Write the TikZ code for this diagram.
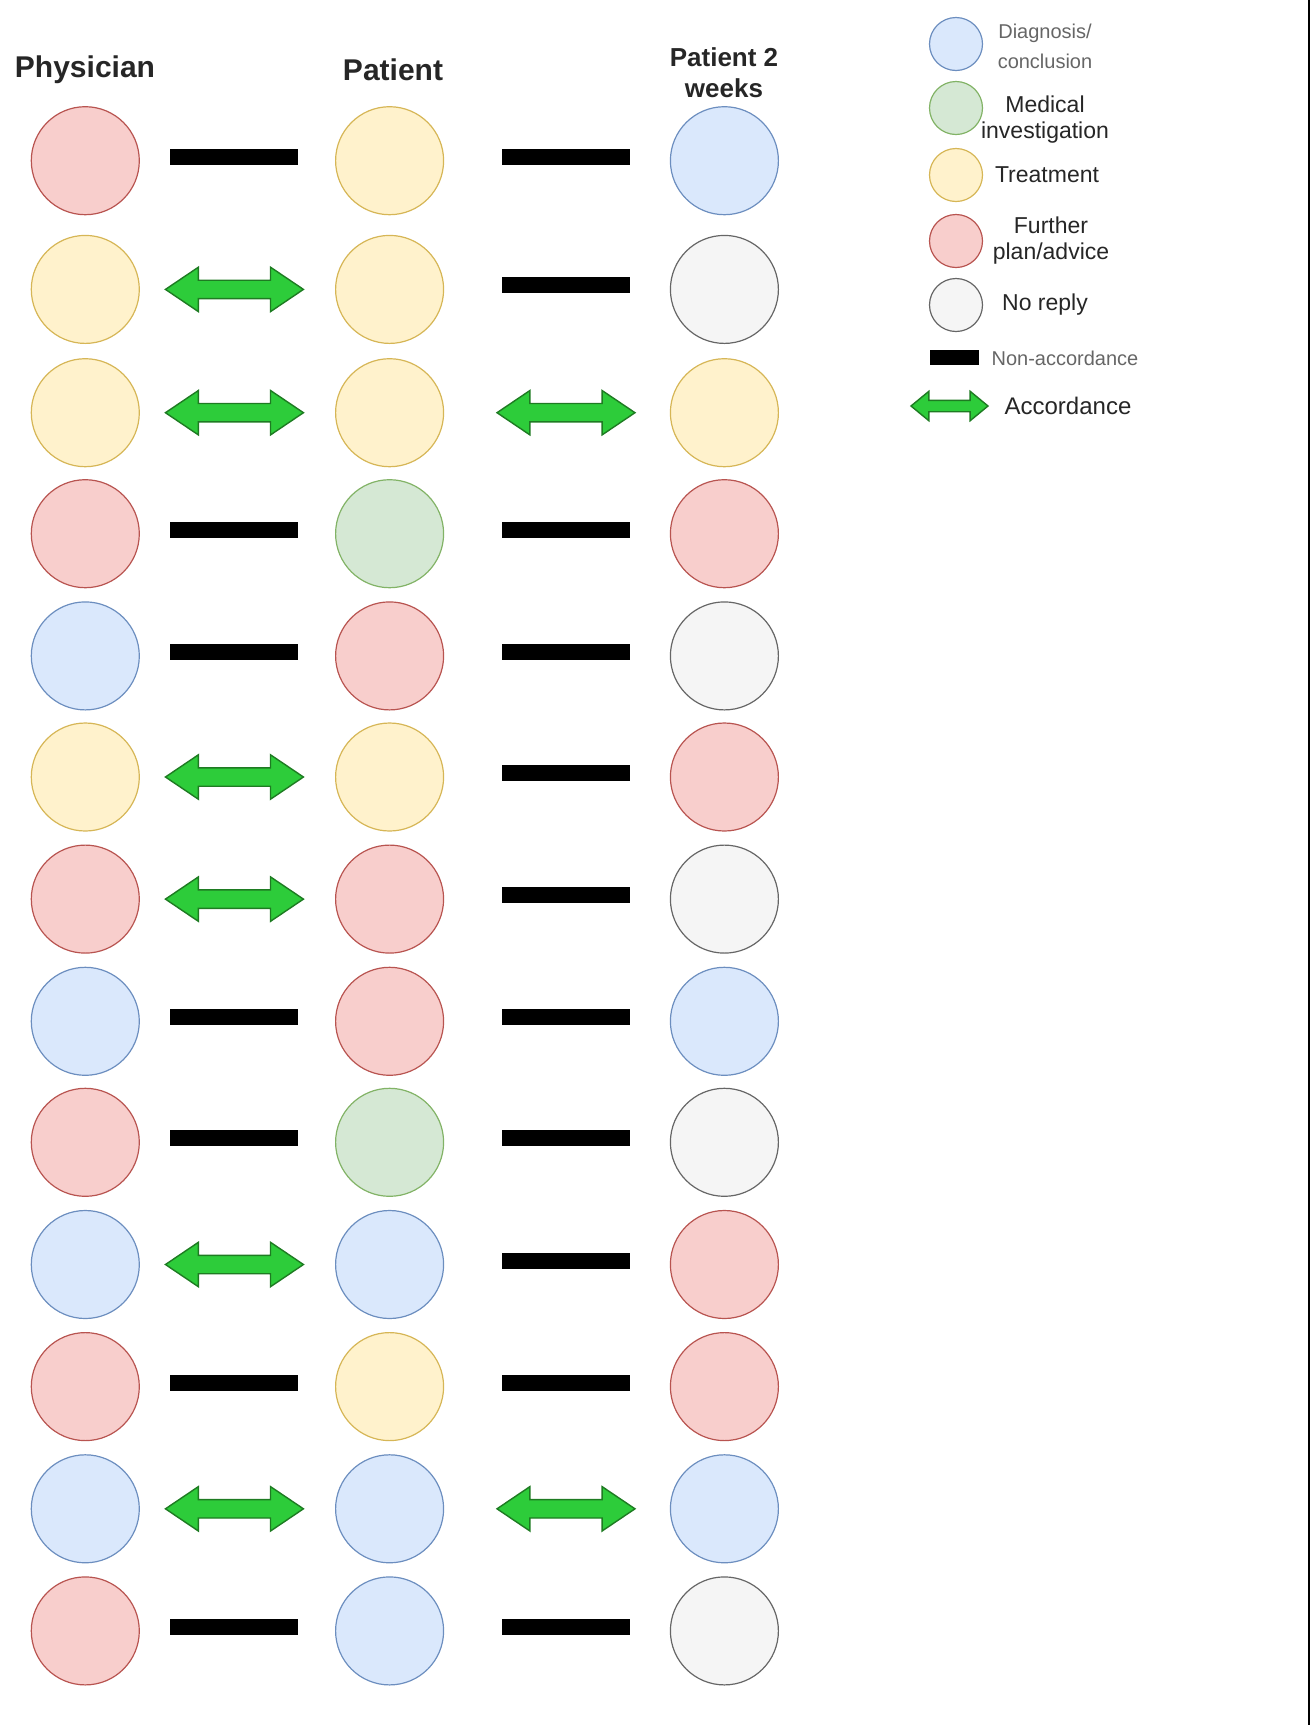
\documentclass[tikz,border=0pt]{standalone}
\usepackage{fontspec}
\setmainfont{Liberation Sans}
\usetikzlibrary{shapes.arrows}

\definecolor{diagfill}{HTML}{DAE8FC}
\definecolor{diagline}{HTML}{6C8EBF}
\definecolor{investfill}{HTML}{D5E8D4}
\definecolor{investline}{HTML}{82B366}
\definecolor{treatfill}{HTML}{FFF2CC}
\definecolor{treatline}{HTML}{D6B656}
\definecolor{planfill}{HTML}{F8CECC}
\definecolor{planline}{HTML}{B85450}
\definecolor{nonefill}{HTML}{F5F5F5}
\definecolor{noneline}{HTML}{666666}
\definecolor{accfill}{HTML}{2DCC3A}
\definecolor{accline}{HTML}{1E7B22}

\tikzset{
  dot/.style={circle, draw, line width=0.6pt, minimum size=54pt, inner sep=0pt},
  legdot/.style={dot, minimum size=26.5pt},
  diag/.style={fill=diagfill, draw=diagline},
  invest/.style={fill=investfill, draw=investline},
  treat/.style={fill=treatfill, draw=treatline},
  plan/.style={fill=planfill, draw=planline},
  noreply/.style={fill=nonefill, draw=noneline},
  bar/.style={rectangle, fill=black, inner sep=0pt},
  n-link/.style={bar, minimum width=64pt, minimum height=8pt, yshift=2pt},
  arrow/.style={double arrow, fill=accfill, draw=accline, line width=0.7pt, inner xsep=0pt},
  a-link/.style={arrow, minimum height=69pt, inner ysep=4.25pt,
    double arrow head extend=6.5pt, double arrow tip angle=68},
  head/.style={font=\bfseries\fontsize{15}{18}\selectfont, text=black!85},
  legtext/.style={align=center, text=black!85, font=\fontsize{11.5}{13}\selectfont},
  legsmall/.style={align=center, text=black!60, font=\fontsize{10}{15}\selectfont}
}

\begin{document}
\begin{tikzpicture}[x=0.5pt, y=-0.5pt]
\useasboundingbox (0,0) rectangle (1314,1725);

% column titles
\node[head] (hphys) at (85,70) {Physician};
\node[head] (hpat) at (393,70) {Patient};
\node[head, align=center, font=\bfseries\fontsize{13}{15.5}\selectfont] (hlater) at (724,73) {Patient 2\\weeks};

% one row per case: physician, patient, patient after 2 weeks
\foreach \y/\a/\b/\c/\l/\r [count=\i] in {
    160.7/plan/treat/diag/n/n,
    289.4/treat/treat/noreply/a/n,
    412.7/treat/treat/treat/a/a,
    533.7/plan/invest/plan/n/n,
    655.9/diag/plan/noreply/n/n,
    777.0/treat/treat/plan/a/n,
    899.1/plan/plan/noreply/a/n,
    1021.3/diag/plan/diag/n/n,
    1142.3/plan/invest/noreply/n/n,
    1264.5/diag/diag/plan/a/n,
    1386.6/plan/treat/plan/n/n,
    1508.8/diag/diag/diag/a/a,
    1630.9/plan/diag/noreply/n/n}{
  \node[dot, \a] (p\i) at (85.3,\y) {};
  \node[dot, \b] (q\i) at (389.6,\y) {};
  \node[dot, \c] (r\i) at (724.4,\y) {};
  \path (p\i) -- node[\l-link, xshift=-1.5pt] (pq\i) {} (q\i);
  \path (q\i) -- node[\r-link, xshift=4.5pt] (qr\i) {} (r\i);
}

% legend
\node[legdot, diag] (lgdiag) at (956,44) {};
\node[legdot, invest] (lginvest) at (956,108) {};
\node[legdot, treat] (lgtreat) at (956,175) {};
\node[legdot, plan] (lgplan) at (956,241) {};
\node[legdot, noreply] (lgnone) at (956,305) {};
\node[legsmall] (tdiag) at (1045,46) {Diagnosis/\\conclusion};
\node[legtext] (tinvest) at (1045,120) {Medical\\investigation};
\node[legtext] (ttreat) at (1047,175) {Treatment};
\node[legtext] (tplan) at (1051,241) {Further\\plan/advice};
\node[legtext] (tnone) at (1045,305) {No reply};
\node[bar, minimum width=24.5pt, minimum height=7.5pt] (lgnon) at (954.5,357.5) {};
\node[legsmall] (tnon) at (1065,358) {Non-accordance};
\node[arrow, minimum height=38.5pt, inner ysep=2.5pt,
  double arrow head extend=4.5pt, double arrow tip angle=79] (lgacc) at (949.5,406) {};
\node[legtext, font=\fontsize{12}{14}\selectfont] (tacc) at (1068,406) {Accordance};

% frame edge
\draw[line width=1pt] (1309,0) -- (1309,1725);
\end{tikzpicture}
\end{document}
